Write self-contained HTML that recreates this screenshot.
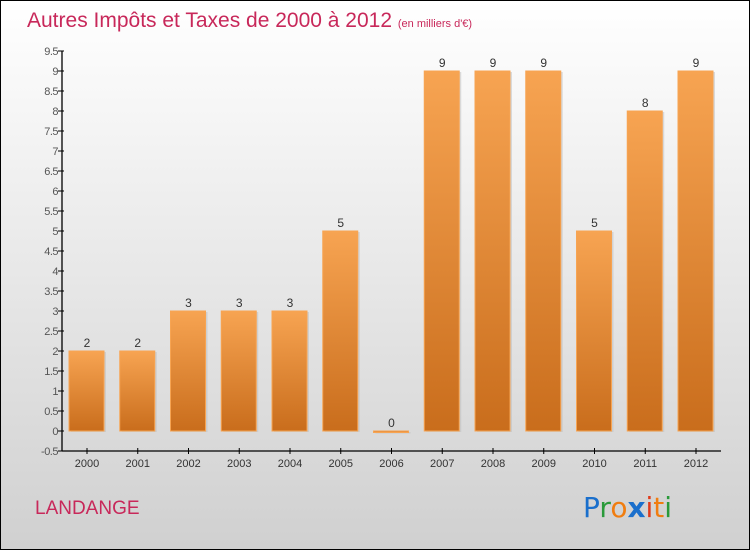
<!DOCTYPE html>
<html><head><meta charset="utf-8"><style>
body{margin:0}
#c{width:748px;height:548px;border:1px solid #000;background:linear-gradient(#ffffff,#d0d0d0);position:relative;font-family:"Liberation Sans",sans-serif}
</style></head><body>
<div id="c">
<svg id="s" width="748" height="548" style="position:absolute;left:0;top:0">
<defs><linearGradient id="g" x1="0" y1="0" x2="0" y2="1"><stop offset="0" stop-color="#f7a452"/><stop offset="1" stop-color="#c96d1c"/></linearGradient></defs>
<text x="26" y="26" font-size="21" fill="#c8285a">Autres Impôts et Taxes de 2000 à 2012 <tspan font-size="11">(en milliers d'€)</tspan></text>
<text x="34" y="513" font-size="19" fill="#c8285a">LANDANGE</text>
<g font-size="28" font-family="'DejaVu Sans',sans-serif">
<text x="582" y="516"><tspan fill="#1a6fcc">P</tspan><tspan fill="#2a9a3a">r</tspan><tspan fill="#f07d10">o</tspan><tspan fill="#1a6fcc" font-weight="bold">x</tspan><tspan fill="#e03a1a">i</tspan><tspan fill="#f07d10">t</tspan><tspan fill="#2a9a3a">i</tspan></text></g>
<g id="axes"></g><g id="bars"></g>
</svg></div>
<script>
const years=["2000","2001","2002","2003","2004","2005","2006","2007","2008","2009","2010","2011","2012"];
const values=[2,2,3,3,3,5,0,9,9,9,5,8,9];
const labels=["2","2","3","3","3","5","0","9","9","9","5","8","9"];
const yTicks=[-0.5,0,0.5,1,1.5,2,2.5,3,3.5,4,4.5,5,5.5,6,6.5,7,7.5,8,8.5,9,9.5];
const NS="http://www.w3.org/2000/svg";
const y=v=>430-v*40;
const x=i=>86+i*50.75;
function mk(t,a,p){const e=document.createElementNS(NS,t);for(const k in a)e.setAttribute(k,a[k]);p.appendChild(e);return e;}
const ax=document.getElementById('axes'),bs=document.getElementById('bars');
const yl=mk('line',{x1:61,y1:50,x2:61,y2:450,stroke:'#000','stroke-width':1.3},ax);


const xl=mk('line',{x1:61,y1:450,x2:720,y2:450,stroke:'#000','stroke-width':1.3},ax);


yTicks.forEach(v=>{
 mk('line',{x1:57,y1:y(v),x2:63,y2:y(v),stroke:'#000'},ax);
 const t=mk('text',{x:57,y:y(v)+4,'text-anchor':'end','font-size':11,fill:'#555','letter-spacing':'-0.5'},ax);
 t.textContent=String(v);
 
 
});
years.forEach((yr,i)=>{
 mk('line',{x1:x(i),y1:447,x2:x(i),y2:453,stroke:'#000'},ax);
 const t=mk('text',{x:x(i),y:466,'text-anchor':'middle','font-size':11,fill:'#333'},ax);
 t.textContent=yr;
 
 
 const v=values[i],top=Math.min(y(v),y(0)),h=Math.max(Math.abs(y(v)-y(0)),1.5);
 mk('rect',{x:x(i)-16,y:top+1,width:35,height:h,fill:'#bbb',opacity:0.5},bs);
 const r=mk('rect',{x:x(i)-18,y:top,width:35,height:h,fill:'url(#g)',stroke:'#f7a452','stroke-width':1},bs);
 
 
 const l=mk('text',{x:x(i),y:top-4,'text-anchor':'middle','font-size':12,fill:'#333'},bs);
 l.textContent=labels[i];
 
 
});
</script>
</body></html>
